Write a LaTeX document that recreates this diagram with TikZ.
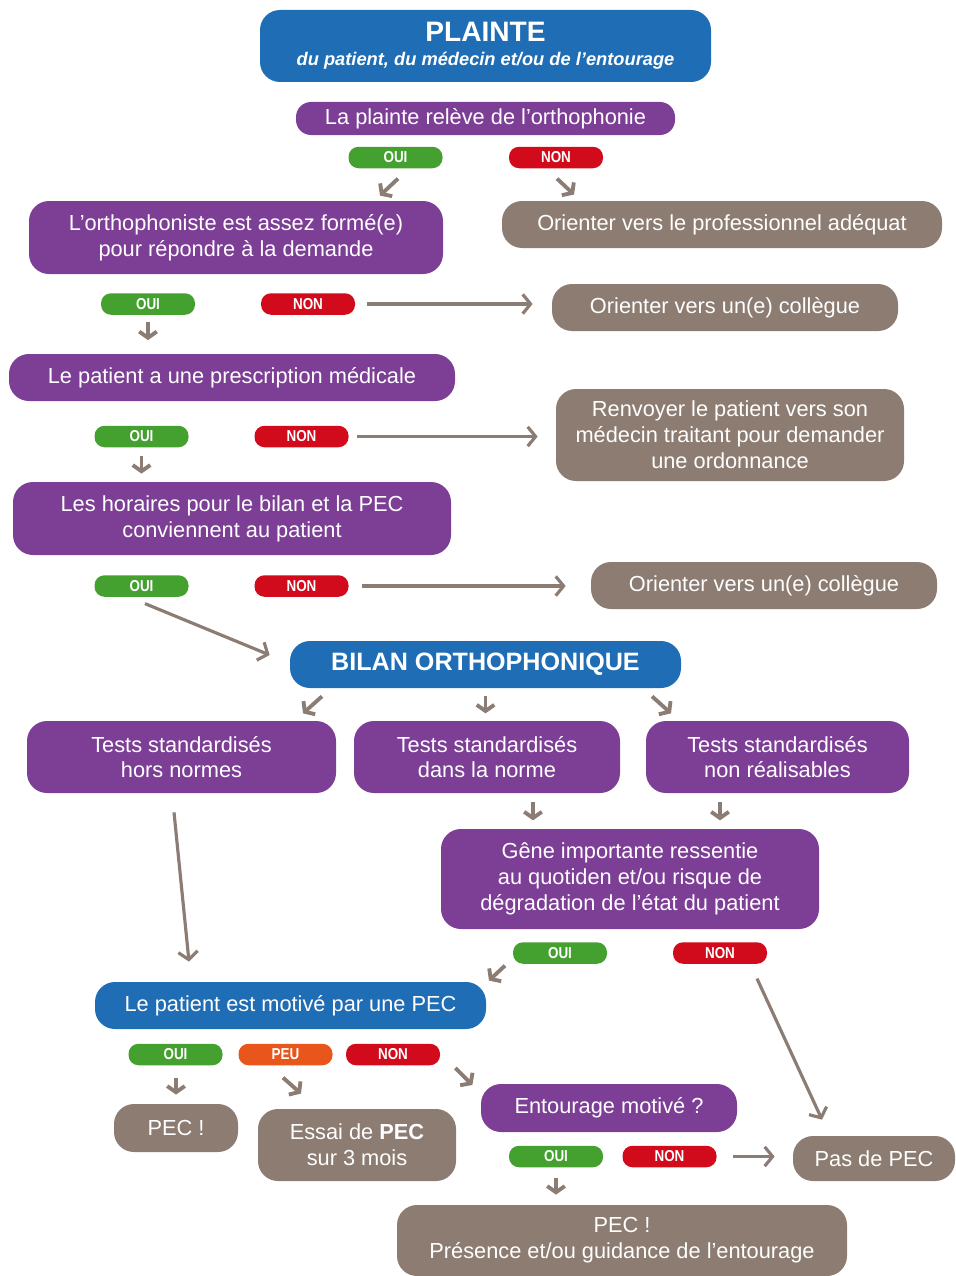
\documentclass[tikz,border=0pt]{standalone}
\usepackage{fontspec}
\setmainfont{Liberation Sans}
\newfontfamily\pillfont[FakeStretch=0.85]{Liberation Sans}
\usetikzlibrary{arrows.meta}
\definecolor{cblue}{HTML}{1F6DB4}
\definecolor{cpurple}{HTML}{7D3E96}
\definecolor{ctaupe}{HTML}{8C7C72}
\definecolor{cgreen}{HTML}{44A12F}
\definecolor{cred}{HTML}{D10A1C}
\definecolor{corange}{HTML}{E8561C}
\definecolor{carrow}{HTML}{8C7D74}
\tikzset{
  box/.style={rounded corners=0.4cm, text=white, align=center, inner sep=0pt,
    font=\fontsize{12.4}{14.7}\selectfont},
  bluebox/.style={box, fill=cblue},
  purplebox/.style={box, fill=cpurple},
  greybox/.style={box, fill=ctaupe},
  pill/.style={rounded corners=0.2cm, minimum width=1.88cm, minimum height=0.43cm,
    inner sep=0pt, text=white, font=\pillfont\bfseries\fontsize{9}{9}\selectfont},
  oui/.style={pill, fill=cgreen},
  non/.style={pill, fill=cred},
  peu/.style={pill, fill=corange},
  sarrow/.style={draw=carrow, line width=2.2pt, -{Straight Barb[length=3.5pt,width=10pt]}},
  larrow/.style={draw=carrow, line width=1.8pt, -{Straight Barb[length=4.5pt,width=11pt]}},
}
\begin{document}
\begin{tikzpicture}
\useasboundingbox (0,0) rectangle (19.1,-25.52);

% top of the chart
\node[bluebox, minimum width=9.02cm, minimum height=1.44cm] (plainte) at (9.71,-0.92)
  {{\bfseries\fontsize{16}{18}\selectfont PLAINTE}\\[-0.8pt]
   {\bfseries\itshape\fontsize{10.4}{12}\selectfont du patient, du médecin et/ou de l’entourage}};
\node[purplebox, minimum width=7.58cm, minimum height=0.66cm, rounded corners=0.3cm] (releve) at (9.71,-2.37)
  {La plainte relève de l’orthophonie};
\node[oui] (oui1) at (7.91,-3.15) {OUI};
\node[non] (non1) at (11.12,-3.15) {NON};

\node[purplebox, minimum width=8.28cm, minimum height=1.46cm] (forme) at (4.72,-4.75)
  {L’orthophoniste est assez formé(e)\\pour répondre à la demande};
\node[greybox, minimum width=8.8cm, minimum height=0.94cm] (prof) at (14.44,-4.49)
  {Orienter vers le professionnel adéquat};
\node[oui] (oui2) at (2.96,-6.08) {OUI};
\node[non] (non2) at (6.16,-6.08) {NON};
\node[greybox, minimum width=6.92cm, minimum height=0.94cm] (coll1) at (14.5,-6.15)
  {Orienter vers un(e) collègue};

\node[purplebox, minimum width=8.92cm, minimum height=0.94cm] (prescr) at (4.64,-7.55)
  {Le patient a une prescription médicale};
\node[oui] (oui3) at (2.83,-8.73) {OUI};
\node[non] (non3) at (6.03,-8.73) {NON};
\node[greybox, minimum width=6.96cm, minimum height=1.84cm] (renv) at (14.6,-8.7)
  {Renvoyer le patient vers son\\médecin traitant pour demander\\une ordonnance};

\node[purplebox, minimum width=8.76cm, minimum height=1.46cm] (horaires) at (4.64,-10.37)
  {Les horaires pour le bilan et la PEC\\conviennent au patient};
\node[oui] (oui4) at (2.83,-11.72) {OUI};
\node[non] (non4) at (6.03,-11.72) {NON};
\node[greybox, minimum width=6.92cm, minimum height=0.94cm] (coll2) at (15.28,-11.71)
  {Orienter vers un(e) collègue};

% assessment
\node[bluebox, minimum width=7.82cm, minimum height=0.94cm] (bilan) at (9.71,-13.29)
  {\bfseries\fontsize{14.3}{16}\selectfont BILAN ORTHOPHONIQUE};
\node[purplebox, minimum width=6.18cm, minimum height=1.44cm] (hors) at (3.63,-15.14)
  {Tests standardisés\\hors normes};
\node[purplebox, minimum width=5.32cm, minimum height=1.44cm] (dans) at (9.74,-15.14)
  {Tests standardisés\\dans la norme};
\node[purplebox, minimum width=5.26cm, minimum height=1.44cm] (nonr) at (15.55,-15.14)
  {Tests standardisés\\non réalisables};

\node[purplebox, minimum width=7.56cm, minimum height=2.0cm] (gene) at (12.6,-17.58)
  {Gêne importante ressentie\\au quotiden et/ou risque de\\dégradation de l’état du patient};
\node[oui] (oui5) at (11.2,-19.06) {OUI};
\node[non] (non5) at (14.4,-19.06) {NON};

% motivation
\node[bluebox, minimum width=7.82cm, minimum height=0.94cm] (motiv) at (5.81,-20.11)
  {Le patient est motivé par une PEC};
\node[oui] (oui6) at (3.51,-21.09) {OUI};
\node[peu] (peu) at (5.71,-21.09) {PEU};
\node[non] (non6) at (7.86,-21.09) {NON};

\node[greybox, minimum width=2.48cm, minimum height=0.96cm] (pec1) at (3.52,-22.56) {PEC !};
\node[greybox, minimum width=3.96cm, minimum height=1.44cm] (essai) at (7.14,-22.9)
  {Essai de \textbf{PEC}\\sur 3 mois};
\node[purplebox, minimum width=5.12cm, minimum height=0.96cm] (ento) at (12.18,-22.16)
  {Entourage motivé ?};
\node[oui] (oui7) at (11.12,-23.13) {OUI};
\node[non] (non7) at (13.39,-23.13) {NON};
\node[greybox, minimum width=3.24cm, minimum height=0.9cm] (pas) at (17.48,-23.17) {Pas de PEC};
\node[greybox, minimum width=9.0cm, minimum height=1.42cm] (pec2) at (12.44,-24.81)
  {PEC !\\Présence et/ou guidance de l’entourage};

% connectors
\draw[sarrow] ([shift={(0.05,-0.2)}]oui1.south) -- ++(-0.36,-0.34);
\draw[sarrow] ([shift={(0.02,-0.2)}]non1.south) -- ++(0.34,-0.32);
\draw[larrow, shorten <=0.24cm, shorten >=0.38cm] (non2.east) -- (non2.east -| coll1.west);
\draw[sarrow] ([yshift=-0.14cm]oui2.south) -- ++(0,-0.36);
\draw[larrow, shorten <=0.17cm, shorten >=0.36cm] (non3.east) -- (non3.east -| renv.west);
\draw[sarrow] ([yshift=-0.16cm]oui3.south) -- ++(0,-0.36);
\draw[larrow, shorten <=0.27cm, shorten >=0.5cm] (non4.east) -- (non4.east -| coll2.west);
\draw[larrow] ([shift={(0.07,-0.13)}]oui4.south) -- ([shift={(-0.4,0.19)}]bilan.west);
\draw[sarrow] ([shift={(-3.27,-0.16)}]bilan.south) -- ++(-0.38,-0.34);
\draw[sarrow] ([yshift=-0.16cm]bilan.south) -- ++(0,-0.34);
\draw[sarrow] ([shift={(3.33,-0.16)}]bilan.south) -- ++(0.38,-0.34);
\draw[sarrow] ([shift={(0.92,-0.18)}]dans.south) -- ++(0,-0.36);
\draw[sarrow] ([shift={(-1.15,-0.18)}]nonr.south) -- ++(0,-0.36);
\draw[larrow] ([shift={(-0.15,-0.38)}]hors.south) -- ([shift={(-2.03,0.4)}]motiv.north);
\draw[sarrow] ([shift={(-1.1,-0.03)}]oui5.south) -- ++(-0.32,-0.3);
\draw[larrow] ([shift={(0.74,-0.29)}]non5.south) -- ([shift={(-1.04,0.32)}]pas.north);
\draw[sarrow] ([shift={(0.01,-0.24)}]oui6.south) -- ++(0,-0.34);
\draw[sarrow] ([shift={(-0.05,-0.24)}]peu.south) -- ++(0.36,-0.32);
\draw[sarrow] ([shift={(0.3,-0.27)}]non6.east) -- ++(0.34,-0.34);
\draw[larrow, shorten <=0.33cm, shorten >=0.36cm] (non7.east) -- (non7.east -| pas.west);
\draw[sarrow] ([yshift=-0.2cm]oui7.south) -- ++(0,-0.34);
\end{tikzpicture}
\end{document}
